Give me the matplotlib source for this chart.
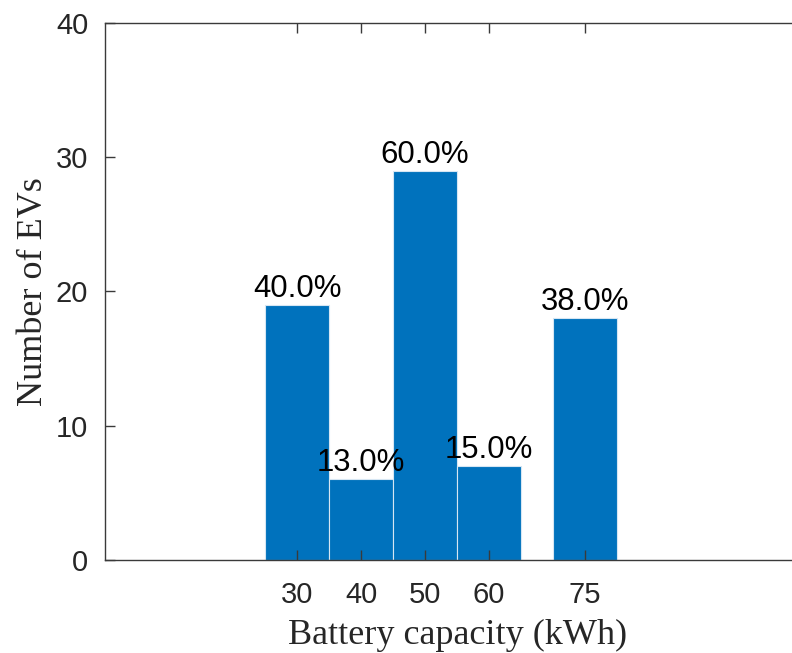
import numpy as np
import matplotlib
matplotlib.use("Agg")
import matplotlib.pyplot as plt

# EV battery sizes and fleet counts
capacity = [30, 40, 50, 60, 75]
n_evs = [19, 6, 29, 7, 18]
share = ["40.0%", "13.0%", "60.0%", "15.0%", "38.0%"]

plt.rcParams['font.family'] = ['Liberation Sans', 'DejaVu Sans']

fig = plt.figure(figsize=(7.92, 6.53), dpi=100)
ax = fig.add_axes([0.1326, 0.1424, 0.889, 0.8224])

ax.bar(capacity, n_evs, width=10, color='#0072BD', edgecolor='#d6e6f3', linewidth=0.8)

for xc, h, s in zip(capacity, n_evs, share):
    ax.text(xc, h + 0.6, s, ha='center', va='baseline', fontsize=22.4, color='black')

ax.set_xlim(0, 110)
ax.set_ylim(0, 40)
ax.set_xticks(capacity)
ax.set_yticks([0, 10, 20, 30, 40])

for sp in ax.spines.values():
    sp.set_color('#3a3a3a')
    sp.set_linewidth(1.0)
ax.tick_params(direction='in', top=True, right=True, length=7, width=1,
               color='#3a3a3a', labelcolor='#262626', labelsize=21, pad=12)
ax.tick_params(axis='x', pad=15)

ax.set_xlabel("Battery capacity (kWh)", family='Liberation Serif', fontsize=26, color='#262626', labelpad=7)
ax.set_ylabel("Number of EVs", family='Liberation Serif', fontsize=26, color='#262626', labelpad=4)

fig.savefig("out.png", dpi=100)
